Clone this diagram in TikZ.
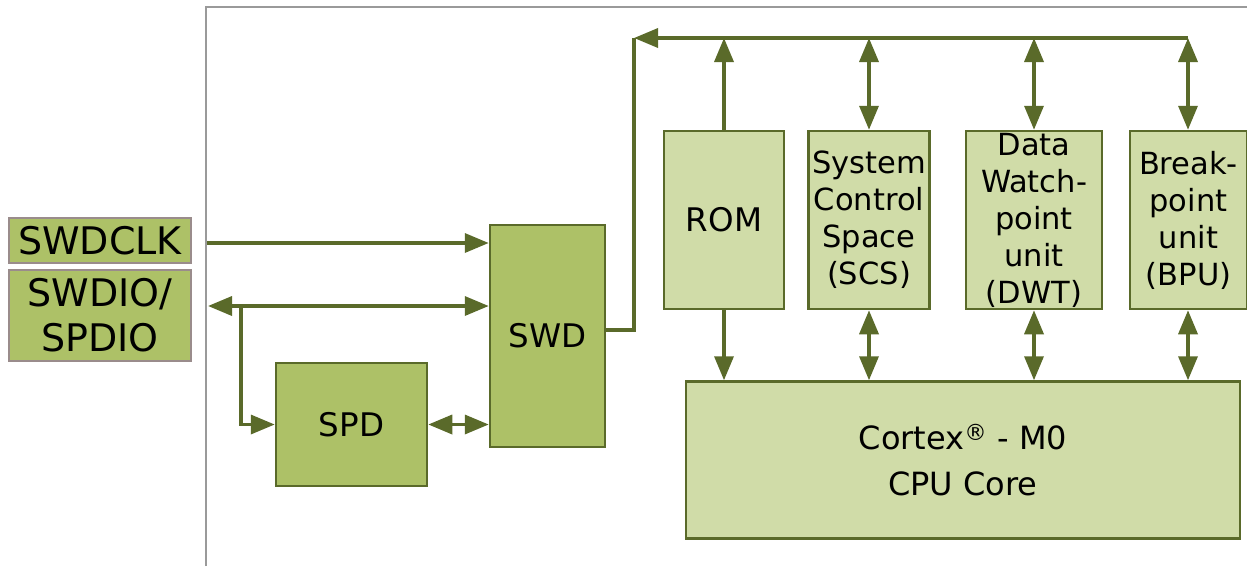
\documentclass[tikz,border=0pt]{standalone}
\usepackage{fontspec}
\setmainfont{DejaVu Sans}
\usetikzlibrary{arrows.meta}
\definecolor{lineol}{HTML}{5A6A2A}
\definecolor{darkfill}{HTML}{ADC167}
\definecolor{lightfill}{HTML}{D0DCA8}
\definecolor{pinborder}{HTML}{9A8C8C}
\definecolor{framegray}{HTML}{9A9A9A}
\tikzset{
  bt/.tip={Triangle[length=24pt,width=19pt]},
  blk/.style={draw=lineol, line width=2.5pt, inner sep=0pt, align=center, text=black},
  darkblk/.style={blk, fill=darkfill},
  lightblk/.style={blk, fill=lightfill},
  pinbox/.style={draw=pinborder, line width=2pt, fill=darkfill, inner sep=0pt, align=center,
    minimum width=182pt, font=\fontsize{38}{45}\selectfont},
  conn/.style={draw=lineol, line width=3.5pt},
  lbl/.style={font=\fontsize{30.5}{37}\selectfont},
  biglbl/.style={font=\fontsize{32.5}{37}\selectfont}
}
\begin{document}
\begin{tikzpicture}[x=1pt,y=-1pt]
\useasboundingbox (0,0) rectangle (1247,566);
% frame
\draw[framegray, line width=2pt] (206,566) -- (206,7) -- (1247,7);
% pins
\node[pinbox, minimum height=45pt] (swdclk) at (100,240.5) {SWDCLK};
\node[pinbox, minimum height=91pt] (swdio) at (100,315.5) {SWDIO/\\SPDIO};
% blocks
\node[darkblk, minimum width=115pt, minimum height=222pt, biglbl] (swd) at (547.5,336) {SWD};
\node[darkblk, minimum width=151pt, minimum height=123pt, biglbl] (spd) at (351.5,424.5) {SPD};
\node[lightblk, minimum width=120pt, minimum height=178pt, biglbl] (rom) at (724,220) {ROM};
\node[lightblk, minimum width=121pt, minimum height=178pt, lbl] (scs) at (869,220) {System\\Control\\Space\\(SCS)};
\node[lightblk, minimum width=136pt, minimum height=178pt, lbl] (dwt) at (1034,220) {Data\\Watch-\\point\\unit\\(DWT)};
\node[lightblk, minimum width=117pt, minimum height=178pt, lbl] (bpu) at (1188.5,220) {Break-\\point\\unit\\(BPU)};
\node[lightblk, minimum width=554pt, minimum height=157pt, font=\fontsize{32}{46}\selectfont] (cpu) at (963,460) {Cortex\textsuperscript{\textregistered} - M0\\CPU Core};
% coordinates
\coordinate (clkin) at (207,243);
\coordinate (dioin) at (208,306);
\coordinate (branch) at (241,306);
\coordinate (busL) at (634,38);
\coordinate (busR) at (1188,38);
\coordinate (swdout) at (605,330);
% connectors
\draw[conn, -bt] (clkin) -- (swd.west |- clkin);
\draw[conn, bt-bt] (dioin) -- (swd.west |- dioin);
\draw[conn, -bt] (branch) |- (spd.west);
\draw[conn, bt-bt] (spd.east) -- (swd.west |- spd.east);
\draw[conn] (swdout) -| (busL);
\draw[conn, -bt] (busR) -- (busL);
\draw[conn, -bt] (rom.north) -- (rom.north |- busL);
\draw[conn, bt-bt] (scs.north) -- (scs.north |- busL);
\draw[conn, bt-bt] (dwt.north) -- (dwt.north |- busL);
\draw[conn, bt-bt] (busR |- bpu.north) -- (busR);
\draw[conn, -bt] (rom.south) -- (rom.south |- cpu.north);
\draw[conn, bt-bt] (scs.south) -- (scs.south |- cpu.north);
\draw[conn, bt-bt] (dwt.south) -- (dwt.south |- cpu.north);
\draw[conn, bt-bt] (busR |- bpu.south) -- (busR |- cpu.north);
\end{tikzpicture}
\end{document}
